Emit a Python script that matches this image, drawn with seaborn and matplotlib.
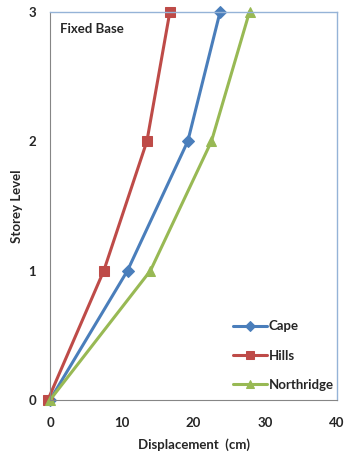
import matplotlib.pyplot as plt
import pandas as pd
import seaborn as sns

storey = [0, 1, 2, 3]
cape = [0.0, 10.8, 19.2, 23.7]
hills = [-0.3, 7.5, 13.5, 16.7]
northridge = [0.0, 14.0, 22.5, 27.8]

series = {
    "Cape": (cape, "#4A7EBB", "D", 6),
    "Hills": (hills, "#BE4B48", "s", 7),
    "Northridge": (northridge, "#98B954", "^", 7.5),
}

sns.set_style("white")
plt.rcParams["font.family"] = ["Lato", "DejaVu Sans"]
plt.rcParams["font.weight"] = "bold"

fig = plt.figure(figsize=(3.45, 4.54), dpi=100)
ax = fig.add_axes([0.145, 0.119, 0.832, 0.855])

for name, (disp, color, marker, ms) in series.items():
    df = pd.DataFrame({"disp": disp, "storey": storey})
    sns.lineplot(data=df, x="disp", y="storey", sort=False, estimator=None,
                 color=color, marker=marker, markersize=ms, markeredgecolor=color,
                 linewidth=2.2, label=name, clip_on=False, ax=ax)

ax.set_xlim(0, 40)
ax.set_ylim(0, 3)
ax.set_xticks([0, 10, 20, 30, 40])
ax.set_yticks([0, 1, 2, 3])
ax.tick_params(axis="both", labelsize=9.5, length=4, width=0.8,
               color="#868686", direction="out", pad=6)
ax.tick_params(axis="x", pad=8)
for lab in ax.get_xticklabels() + ax.get_yticklabels():
    lab.set_fontweight("bold")

for side in ["top", "right"]:
    ax.spines[side].set_color("#95B3D7")
    ax.spines[side].set_linewidth(1.0)
for side in ["left", "bottom"]:
    ax.spines[side].set_color("#868686")
    ax.spines[side].set_linewidth(0.8)

ax.set_xlabel("Displacement  (cm)", fontsize=9.5, fontweight="bold", labelpad=7)
ax.set_ylabel("Storey Level", fontsize=9.5, fontweight="bold", labelpad=4)

ax.text(0.035, 0.955, "Fixed Base", transform=ax.transAxes, fontsize=9.5,
        fontweight="bold", ha="left", va="center")

leg = ax.legend(loc="lower right", frameon=False, fontsize=9.5, handlelength=2.6,
                handletextpad=0.1, labelspacing=1.3, borderaxespad=0.3,
                markerscale=0.8, bbox_to_anchor=(1.02, 0.0))
for t in leg.get_texts():
    t.set_fontweight("bold")

fig.savefig("out.png", dpi=100)
